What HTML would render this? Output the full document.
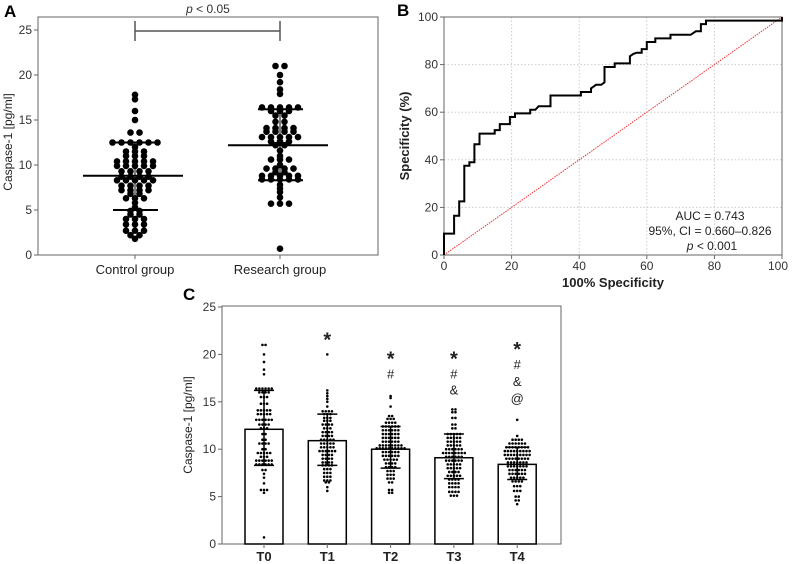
<!DOCTYPE html>
<html><head><meta charset="utf-8"><style>
html,body{margin:0;padding:0;background:#fff;}
svg{display:block;font-family:"Liberation Sans",sans-serif;}
</style></head><body>
<svg id="fig" width="792" height="564" viewBox="0 0 792 564" xmlns="http://www.w3.org/2000/svg">
<g id="pa"></g>
<g id="pb"></g>
<g id="pc"></g>
</svg>
<script>
// Panel A data: rows of [value, count]
const controlRows=[[17.8,1],[17.3,1],[16,1],[15,1],[13.6,2],[12.5,6],[12,1],[11.5,3],[11,3],[10.4,5],[9.9,5],[9.3,4],[8.7,4],[8.3,5],[7.7,4],[7.2,4],[6.8,2],[6.3,3],[5.8,1],[5.3,1],[4.9,2],[4.5,2],[4,3],[3.4,3],[2.7,3],[2.2,2],[1.8,1]];
const researchRows=[[21,2],[20,1],[19.2,1],[18.4,1],[17.9,1],[16.4,5],[16,3],[15.5,2],[14.8,2],[14.1,4],[13.7,4],[13.1,5],[12.6,3],[12.2,2],[11.6,1],[11,1],[10.6,3],[10,1],[9.6,4],[9.2,2],[8.8,5],[8.4,5],[7.8,1],[7.4,1],[7,1],[6.4,1],[5.7,3],[0.7,1]];
const groupNames=["Control group","Research group"];
const groupMedian=[8.8,12.2];
const groupQ1=[5.0,8.3];
const groupQ3=[12.5,16.2];
const aTicks=[0,5,10,15,20,25];
// Panel B data
const rocX=[0,0,3,3,4.5,4.5,6,6,7.5,7.5,9,9,10.5,10.5,15,15,16.5,16.5,19.5,19.5,21,21,25.5,25.5,27,28,31.5,31.5,40.5,40.5,43.5,43.5,45,46.5,47.5,47.5,50.5,50.5,55,55,56,57,58.5,58.5,60,60,62.5,62.5,67,67,73,74.5,76,76,77.5,77.5,100,100];
const rocY=[0,9,9,16.5,16.5,22.5,22.5,37.5,37.5,39,39,46.5,46.5,51,51,52.5,52.5,55,55,58,58,59.5,59.5,61,61,62.5,62.5,67,67,68.5,68.5,70,71.5,71.5,72.5,79,79,80.5,80.5,83.5,84.5,85,85,86.5,86.5,89.5,89.5,91,91,92.5,92.5,94,94,97,97,98.5,98.5,100];
const bTicks=[0,20,40,60,80,100];
// Panel C data
const timeLabels=["T0","T1","T2","T3","T4"];
const timeMeans=[12.1,10.9,10.0,9.1,8.4];
const timeLow=[8.3,8.3,8.0,6.9,6.8];
const timeHigh=[16.2,13.7,12.4,11.6,10.2];
const t0Rows=[[21,2],[20,1],[19.2,1],[18.4,1],[17.9,1],[16.4,6],[16,4],[15.5,3],[14.8,3],[14.1,5],[13.7,5],[13.1,6],[12.6,4],[12.2,3],[11.6,2],[11,2],[10.6,4],[10,2],[9.6,5],[9.2,3],[8.8,6],[8.4,6],[7.8,2],[7.4,1],[7,1],[6.4,1],[5.7,3],[5.4,1],[0.7,1]];
const t1Rows=[[20,1],[16.2,1],[15.9,1],[15.6,1],[15.3,1],[15,1],[14.5,1],[14,4],[13.7,3],[13.3,3],[13,3],[12.6,4],[12.2,3],[11.8,4],[11.4,4],[11,5],[10.6,5],[10.2,5],[9.8,6],[9.4,4],[9,4],[8.6,4],[8.3,4],[7.9,3],[7.5,3],[7.1,3],[6.7,3],[6.5,2],[6,1],[5.6,1]];
const t2Rows=[[15.6,1],[15.4,1],[14.5,1],[13.5,2],[13.2,3],[12.8,4],[12.4,6],[12,6],[11.6,6],[11.2,6],[10.8,6],[10.4,8],[10.1,10],[9.7,6],[9.3,6],[8.9,5],[8.5,4],[8.1,4],[7.7,3],[7.3,3],[6.9,3],[6.5,2],[5.7,2],[5.4,2]];
const t3Rows=[[14.2,2],[13.9,2],[13.3,2],[12.6,2],[12.2,2],[11.6,5],[11.2,5],[10.8,5],[10.4,5],[10,6],[9.6,8],[9.2,6],[8.8,6],[8.4,5],[8,5],[7.6,4],[7.2,5],[6.8,4],[6.4,4],[6,4],[5.5,4],[5.1,3]];
const t4Rows=[[13.1,1],[11.4,1],[11,4],[10.6,6],[10.2,8],[9.8,9],[9.4,9],[9,8],[8.6,7],[8.2,7],[7.8,6],[7.4,6],[7,5],[6.6,4],[6.1,3],[5.6,3],[5,2],[4.6,2],[4.2,1]];
const cSymbols=[[],["*"],["*","#"],["*","#","&"],["*","#","&","@"]];
const cSymbolY=[[],[22],[20,18],[20,18,16.3],[21,19,17.2,15.4]];
const cTicks=[0,5,10,15,20,25];

const NS="http://www.w3.org/2000/svg";
function mk(parent,tag,attrs,text){const e=document.createElementNS(NS,tag);for(const k in attrs)e.setAttribute(k,attrs[k]);if(text!==undefined)e.textContent=text;parent.appendChild(e);return e;}

// ---------- Panel A ----------
(function(){
const g=document.getElementById('pa');
const L=38,R=378,T=17,B=255;
const ya=v=>B-v*9;
const xc=[135,280];
let t=mk(g,'text',{x:4,y:17,'font-size':17,'font-weight':'bold'},'A');


let r=mk(g,'rect',{x:L,y:T,width:R-L,height:B-T,fill:'none',stroke:'#666','stroke-width':1});


aTicks.forEach(v=>{
 const y=ya(v);
 let l=mk(g,'line',{x1:L-4,x2:L,y1:y,y2:y,stroke:'#666'});
 
 
 let tx=mk(g,'text',{x:L-6,y:y+4,'font-size':12,'text-anchor':'end',fill:'#333'},String(v));
 
 
});
let yt=mk(g,'text',{x:0,y:0,'font-size':12,'text-anchor':'middle',fill:'#222',transform:'translate(12,142) rotate(-90)'},'Caspase-1 [pg/ml]');


[controlRows,researchRows].forEach((rows,gi)=>{
 const cx=xc[gi];
 let tk=mk(g,'line',{x1:cx,x2:cx,y1:B,y2:B+4,stroke:'#666'});
 
 
 let lb=mk(g,'text',{x:cx,y:274,'font-size':13,'text-anchor':'middle',fill:'#222'},groupNames[gi]);
 
 
 rows.forEach(([v,n])=>{for(let i=0;i<n;i++){
  const c=mk(g,'circle',{cx:cx+(i-(n-1)/2)*9,cy:ya(v),r:3.3,fill:'#000'});
  
  
 }});
 let m=mk(g,'line',{x1:cx-52,x2:cx+48,y1:ya(groupMedian[gi]),y2:ya(groupMedian[gi]),stroke:'#000','stroke-width':2});
 
 
 [groupQ1[gi],groupQ3[gi]].forEach(q=>{
  let ql=mk(g,'line',{x1:cx-22,x2:cx+23,y1:ya(q),y2:ya(q),stroke:'#000','stroke-width':2});
  
  
 });
 let vl=mk(g,'line',{x1:cx,x2:cx,y1:ya(groupQ1[gi]),y2:ya(groupQ3[gi]),stroke:'#000','stroke-width':1});
 
 
});
let br=mk(g,'path',{d:`M${xc[0]},21V41M${xc[0]},31H${xc[1]}M${xc[1]},21V41`,stroke:'#555','stroke-width':1.5,fill:'none'});


let pt=mk(g,'text',{x:208,y:13,'font-size':12,'text-anchor':'middle',fill:'#333'});


mk(pt,'tspan',{'font-style':'italic'},'p');
mk(pt,'tspan',{},' < 0.05');
})();

// ---------- Panel B ----------
(function(){
const g=document.getElementById('pb');
const L=444,R=782,T=17,B=255;
const xs=v=>L+v*(R-L)/100, ys=v=>B-v*(B-T)/100;
let t=mk(g,'text',{x:397,y:16,'font-size':17,'font-weight':'bold'},'B');


bTicks.forEach(v=>{
 if(v>0&&v<100){
  let gx=mk(g,'line',{x1:xs(v),x2:xs(v),y1:T,y2:B,stroke:'#ccc','stroke-dasharray':'1.5,2'});
  
  
  let gy=mk(g,'line',{x1:L,x2:R,y1:ys(v),y2:ys(v),stroke:'#ccc','stroke-dasharray':'1.5,2'});
  
  
 }
 let a=mk(g,'line',{x1:L-4,x2:L,y1:ys(v),y2:ys(v),stroke:'#666'});
 
 
 let b=mk(g,'text',{x:L-6,y:ys(v)+4,'font-size':12,'text-anchor':'end',fill:'#333'},String(v));
 
 
 let c=mk(g,'line',{x1:xs(v),x2:xs(v),y1:B,y2:B+4,stroke:'#666'});
 
 
 let d=mk(g,'text',{x:Math.min(xs(v),778),y:270,'font-size':12,'text-anchor':'middle',fill:'#333'},String(v));
 
 
});
let fr=mk(g,'rect',{x:L,y:T,width:R-L,height:B-T,fill:'none',stroke:'#666'});


let ref=mk(g,'line',{x1:xs(0),y1:ys(0),x2:xs(100),y2:ys(100),stroke:'#e33','stroke-width':1,'stroke-dasharray':'1.5,1'});


let d='';rocX.forEach((x,i)=>{d+=(i?'L':'M')+xs(x).toFixed(1)+','+ys(rocY[i]).toFixed(1);});
let roc=mk(g,'path',{d:d,fill:'none',stroke:'#000','stroke-width':2});


let xt=mk(g,'text',{x:613,y:287,'font-size':13,'font-weight':'bold','text-anchor':'middle',fill:'#222'},'100% Specificity');


let yt=mk(g,'text',{x:0,y:0,'font-size':13,'font-weight':'bold','text-anchor':'middle',fill:'#222',transform:'translate(409,136) rotate(-90)'},'Specificity (%)');


let a1=mk(g,'text',{x:710,y:220,'font-size':12,'text-anchor':'middle',fill:'#222'},'AUC = 0.743');


let a2=mk(g,'text',{x:710,y:235,'font-size':12,'text-anchor':'middle',fill:'#222'},'95%, CI = 0.660–0.826');


let a3=mk(g,'text',{x:712,y:250,'font-size':12,'text-anchor':'middle',fill:'#222'});


mk(a3,'tspan',{'font-style':'italic'},'p');
mk(a3,'tspan',{},' < 0.001');
})();

// ---------- Panel C ----------
(function(){
const g=document.getElementById('pc');
const L=222,R=561,T=306,B=544;
const yc=v=>B-v*(B-307)/25;
const xc=i=>264+i*63.3;
const allRows=[t0Rows,t1Rows,t2Rows,t3Rows,t4Rows];
let t=mk(g,'text',{x:183,y:300,'font-size':17,'font-weight':'bold'},'C');


let fr=mk(g,'rect',{x:L,y:T,width:R-L,height:B-T,fill:'none',stroke:'#666'});


cTicks.forEach(v=>{
 let a=mk(g,'line',{x1:L-4,x2:L,y1:yc(v),y2:yc(v),stroke:'#666'});
 
 
 let b=mk(g,'text',{x:L-6,y:yc(v)+4,'font-size':12,'text-anchor':'end',fill:'#333'},String(v));
 
 
});
let yt=mk(g,'text',{x:0,y:0,'font-size':12,'text-anchor':'middle',fill:'#222',transform:'translate(192,425) rotate(-90)'},'Caspase-1 [pg/ml]');


timeLabels.forEach((lab,i)=>{
 const cx=xc(i);
 let bar=mk(g,'rect',{x:cx-19,y:yc(timeMeans[i]),width:38,height:B-yc(timeMeans[i]),fill:'#fff',stroke:'#000','stroke-width':1.5});
 
 
 allRows[i].forEach(([v,n])=>{for(let k=0;k<n;k++){
  const c=mk(g,'circle',{cx:cx+(k-(n-1)/2)*3.1,cy:yc(v),r:1.3,fill:'#000'});
  
  
 }});
 let eb=mk(g,'path',{d:`M${cx},${yc(timeLow[i])}V${yc(timeHigh[i])}M${cx-10},${yc(timeLow[i])}H${cx+10}M${cx-10},${yc(timeHigh[i])}H${cx+10}`,stroke:'#000','stroke-width':1.5,fill:'none'});
 
 
 let tk=mk(g,'line',{x1:cx,x2:cx,y1:B,y2:B+4,stroke:'#666'});
 
 
 let xl=mk(g,'text',{x:cx,y:561,'font-size':13,'font-weight':'bold','text-anchor':'middle',fill:'#222'},lab);
 
 
 cSymbols[i].forEach((s,j)=>{
  const fs=s==='*'?20:13;
  let st=mk(g,'text',{x:cx,y:yc(cSymbolY[i][j])+(s==='*'?11:5),'font-size':fs,'font-weight':s==='*'?'bold':'normal','text-anchor':'middle',fill:'#222'},s);
  
  
 });
});
})();
</script>
</body></html>
